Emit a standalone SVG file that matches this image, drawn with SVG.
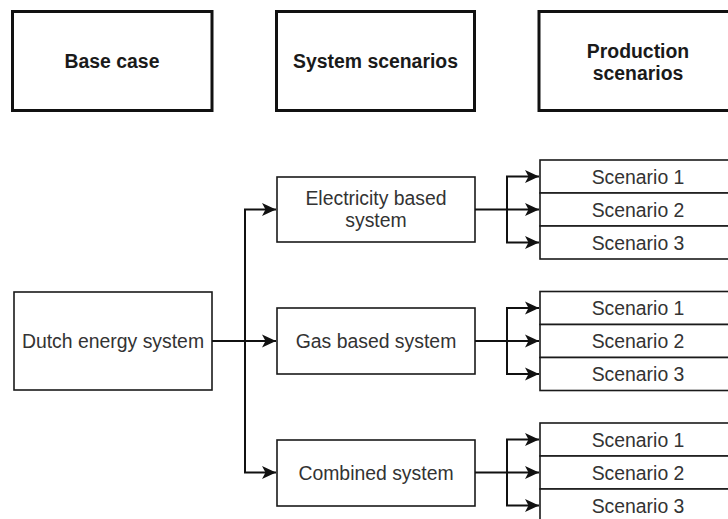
<svg xmlns="http://www.w3.org/2000/svg" width="728" height="519" viewBox="0 0 728 519">
<style>
.hdr{fill:#fff;stroke:#111;stroke-width:3}
.box{fill:#fff;stroke:#1a1a1a;stroke-width:1.6}
.ht{font-family:"Liberation Sans",Arial,sans-serif;font-size:19.4px;font-weight:bold;fill:#1a1a1a;text-anchor:middle}
.t{font-family:"Liberation Sans",Arial,sans-serif;font-size:19.4px;fill:#333;text-anchor:middle}
.c{fill:none;stroke:#111;stroke-width:2}
</style>
<defs>
<marker id="arr" markerUnits="userSpaceOnUse" markerWidth="16" markerHeight="16" refX="14" refY="7" orient="auto">
<path d="M0,0.5 L14,7 L0,13.5 L3.5,7 Z" fill="#111"/>
</marker>
</defs>
<g id="hdr-base"><rect class="hdr" x="12.5" y="11.5" width="199.5" height="99"/><text class="ht" x="112" y="68">Base case</text></g>
<g id="hdr-system"><rect class="hdr" x="276.5" y="11.5" width="198" height="99"/><text class="ht" x="375.5" y="68">System scenarios</text></g>
<g id="hdr-production"><rect class="hdr" x="539" y="11.5" width="200" height="99"/><text class="ht" x="638" y="58">Production</text><text class="ht" x="638" y="80">scenarios</text></g>
<g id="dutch"><rect class="box" x="14" y="292" width="198" height="98"/><text class="t" x="113" y="348">Dutch energy system</text></g>
<g id="electricity"><rect class="box" x="277" y="177" width="198" height="65"/><text class="t" x="376" y="205">Electricity based</text><text class="t" x="376" y="227">system</text></g>
<g id="gas"><rect class="box" x="277" y="308" width="198" height="66"/><text class="t" x="376" y="348">Gas based system</text></g>
<g id="combined"><rect class="box" x="277" y="440" width="198" height="66"/><text class="t" x="376" y="480">Combined system</text></g>
<g id="e-s1"><rect class="box" x="540" y="160" width="200" height="33"/><text class="t" x="638" y="183.5">Scenario 1</text></g>
<g id="e-s2"><rect class="box" x="540" y="193" width="200" height="33"/><text class="t" x="638" y="216.5">Scenario 2</text></g>
<g id="e-s3"><rect class="box" x="540" y="226" width="200" height="33"/><text class="t" x="638" y="249.5">Scenario 3</text></g>
<g id="g-s1"><rect class="box" x="540" y="291.5" width="200" height="33"/><text class="t" x="638" y="315">Scenario 1</text></g>
<g id="g-s2"><rect class="box" x="540" y="324.5" width="200" height="33"/><text class="t" x="638" y="348">Scenario 2</text></g>
<g id="g-s3"><rect class="box" x="540" y="357.5" width="200" height="33"/><text class="t" x="638" y="381">Scenario 3</text></g>
<g id="c-s1"><rect class="box" x="540" y="423" width="200" height="33"/><text class="t" x="638" y="446.5">Scenario 1</text></g>
<g id="c-s2"><rect class="box" x="540" y="456" width="200" height="33"/><text class="t" x="638" y="479.5">Scenario 2</text></g>
<g id="c-s3"><rect class="box" x="540" y="489" width="200" height="33"/><text class="t" x="638" y="512.5">Scenario 3</text></g>
<g id="connectors">
<path class="c" d="M212,341 H276" marker-end="url(#arr)"/>
<path class="c" d="M245,341 V209.5 H276" marker-end="url(#arr)"/>
<path class="c" d="M245,341 V472.5 H276" marker-end="url(#arr)"/>
<path class="c" d="M475,209.5 H539" marker-end="url(#arr)"/>
<path class="c" d="M507,209.5 V176.5 H539" marker-end="url(#arr)"/>
<path class="c" d="M507,209.5 V242.5 H539" marker-end="url(#arr)"/>
<path class="c" d="M475,341 H539" marker-end="url(#arr)"/>
<path class="c" d="M507,341 V308 H539" marker-end="url(#arr)"/>
<path class="c" d="M507,341 V374 H539" marker-end="url(#arr)"/>
<path class="c" d="M475,472.5 H539" marker-end="url(#arr)"/>
<path class="c" d="M507,472.5 V439.5 H539" marker-end="url(#arr)"/>
<path class="c" d="M507,472.5 V505.5 H539" marker-end="url(#arr)"/>
</g>
</svg>
